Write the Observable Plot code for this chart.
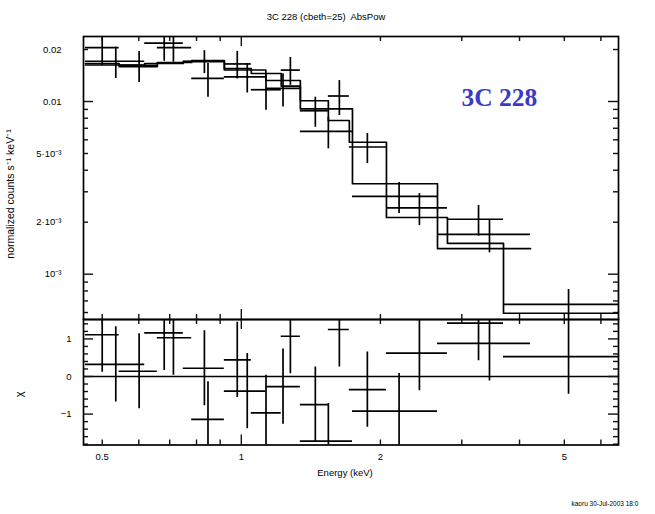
<!DOCTYPE html>
<html><head><meta charset="utf-8">
<script src="https://cdn.jsdelivr.net/npm/d3@7"></script>
<script src="https://cdn.jsdelivr.net/npm/@observablehq/plot@0.6"></script>
<style>
body{margin:0;background:#fff;}
#wrap{position:relative;width:655px;height:514px;}
#wrap svg{position:absolute;left:0;overflow:visible;}
</style></head><body><div id="wrap"></div>
<script>
// ---- Dataset 1 (13 bins) ----
const d1Lo    = [0.46, 0.544, 0.658, 0.781, 0.919, 1.051, 1.22, 1.342, 1.543, 1.713, 2.061, 2.793, 3.693];
const d1Hi    = [0.544, 0.658, 0.781, 0.919, 1.051, 1.22, 1.342, 1.543, 1.713, 2.061, 2.793, 3.693, 6.6];
const d1E     = [0.5, 0.601, 0.713, 0.847, 0.980, 1.131, 1.277, 1.446, 1.630, 1.874, 2.429, 3.261, 5.107];
const d1Rate  = [0.0205, 0.0162, 0.0205, 0.0136, 0.0165, 0.0117, 0.0152, 0.00884, 0.01076, 0.00545, 0.00242, 0.00208, 0.000668];
const d1Err   = [0.0043, 0.0033, 0.0036, 0.0030, 0.0030, 0.0028, 0.0028, 0.00175, 0.00246, 0.00108, 0.00051, 0.00042, 0.000147];
const d1Model = [0.0166, 0.01594, 0.01682, 0.01727, 0.01553, 0.01453, 0.01229, 0.0101, 0.00776, 0.00581, 0.00213, 0.00151, 0.000594];
const d1Chi   = [1.11, 0.14, 1.03, -1.14, 0.44, -0.97, 1.07, -0.75, 1.25, -0.35, 0.62, 1.42, 0.53];
// ---- Dataset 2 (8 bins) ----
const d2Lo    = [0.46, 0.618, 0.749, 0.919, 1.13, 1.342, 1.74, 2.658];
const d2Hi    = [0.618, 0.749, 0.919, 1.13, 1.342, 1.74, 2.658, 4.225];
const d2E     = [0.535, 0.681, 0.832, 1.030, 1.231, 1.543, 2.195, 3.444];
const d2Rate  = [0.0171, 0.0218, 0.0171, 0.0139, 0.0119, 0.00671, 0.00282, 0.0017];
const d2Err   = [0.0035, 0.0047, 0.0026, 0.0027, 0.0026, 0.00139, 0.000575, 0.00037];
const d2Model = [0.01627, 0.0166, 0.01704, 0.01522, 0.01323, 0.00907, 0.00334, 0.001405];
const d2Chi   = [0.32, 1.16, 0.22, -0.39, -0.27, -1.72, -0.92, 0.88];

// ---- axes / ticks / texts ----
const xTickVals   = [0.5, 1, 2, 5];
const xTickLabels = ["0.5", "1", "2", "5"];
const xMinor      = [0.5, 0.6, 0.7, 0.8, 0.9, 2, 3, 4, 5, 6];
const xMajor      = [1];
const yTickVals   = [0.02, 0.01, 0.005, 0.002, 0.001];
const yTickLabels = ["0.02", "0.01", "5·10⁻³", "2·10⁻³", "10⁻³"];
const yMinor      = [6e-4, 7e-4, 8e-4, 9e-4, 2e-3, 3e-3, 4e-3, 5e-3, 6e-3, 7e-3, 8e-3, 9e-3, 0.02];
const yMajor      = [1e-3, 0.01];
const cTickVals   = [1, 0, -1];
const cMinor      = [-1.8, -1.6, -1.4, -1.2, -0.8, -0.6, -0.4, -0.2, 0.2, 0.4, 0.6, 0.8, 1.2, 1.4];
const cMajor      = [-1, 0, 1];
const titleText   = "3C 228 (cbeth=25)  AbsPow";
const yLabelText  = "normalized counts s⁻¹ keV⁻¹";
const cLabelText  = "χ";
const xLabelText  = "Energy (keV)";
const annotText   = "3C 228";
const footerText  = "kaoru 30-Jul-2003 18:0";

const toRows = (lo, hi, e, rate, err, model, chi) =>
  lo.map((l, i) => ({lo: l, hi: hi[i], e: e[i], rate: rate[i], err: err[i], model: model[i], chi: chi[i]}));
const ds1 = toRows(d1Lo, d1Hi, d1E, d1Rate, d1Err, d1Model, d1Chi);
const ds2 = toRows(d2Lo, d2Hi, d2E, d2Rate, d2Err, d2Model, d2Chi);
const steps = (ds) => ds.map(d => ({x: d.lo, y: d.model})).concat([{x: ds[ds.length - 1].hi, y: ds[ds.length - 1].model}]);

const W = 655, ML = 83, MR = 37;
const innerW = W - ML - MR;
const xDomain = [0.4555, 6.55];
const SW = 1.7;
const font = "'Liberation Sans', Arial, sans-serif";

// ---------- top panel ----------
const H1 = 319, MT1 = 36;
const fh1 = H1 - MT1;
const dataMarks = (ds) => [
  Plot.ruleY(ds, {x1: "lo", x2: "hi", y: "rate", stroke: "#000", strokeWidth: SW, clip: true}),
  Plot.ruleX(ds, {x: "e", y1: d => d.rate - d.err, y2: d => d.rate + d.err, stroke: "#000", strokeWidth: SW, clip: true}),
  Plot.line(steps(ds), {x: "x", y: "y", curve: "step-after", stroke: "#000", strokeWidth: SW, clip: true})
];
const topPlot = Plot.plot({
  width: W, height: H1, marginTop: MT1, marginBottom: 0, marginLeft: ML, marginRight: MR,
  style: {fontFamily: font, fontSize: "9px", color: "#111", background: "transparent", overflow: "visible"},
  x: {type: "log", domain: xDomain, axis: null},
  y: {type: "log", domain: [5.466e-4, 0.02379]},
  marks: [
    ...dataMarks(ds1), ...dataMarks(ds2),
    Plot.tickX(xMinor, {x: d => d, insetTop: fh1 - 5, strokeWidth: 1.4}),
    Plot.tickX(xMinor, {x: d => d, insetBottom: fh1 - 5, strokeWidth: 1.4}),
    Plot.tickX(xMajor, {x: d => d, insetTop: fh1 - 10, strokeWidth: 1.4}),
    Plot.tickX(xMajor, {x: d => d, insetBottom: fh1 - 10, strokeWidth: 1.4}),
    Plot.tickY(yMinor, {y: d => d, insetRight: innerW - 5, strokeWidth: 1.4}),
    Plot.tickY(yMinor, {y: d => d, insetLeft: innerW - 5, strokeWidth: 1.4}),
    Plot.tickY(yMajor, {y: d => d, insetRight: innerW - 10, strokeWidth: 1.4}),
    Plot.tickY(yMajor, {y: d => d, insetLeft: innerW - 10, strokeWidth: 1.4}),
    Plot.axisY(yTickVals, {tickSize: 0, tickPadding: 22, label: null, fontSize: 9.5, fill: "#000",
      tickFormat: d => yTickLabels[yTickVals.indexOf(d)]}),
    Plot.text([yLabelText], {frameAnchor: "left", textAnchor: "middle", dx: -73, dy: 16, rotate: -90, fontSize: 10.5, fill: "#000"}),
    Plot.text([titleText], {frameAnchor: "top", textAnchor: "middle", dx: -25, dy: -23, fontSize: 9.5, fill: "#000"}),
    Plot.text([annotText], {frameAnchor: "top-left", dx: 378, dy: 61, textAnchor: "start", lineAnchor: "middle",
      fontSize: 25.5, fontWeight: "bold", fontFamily: "'Liberation Serif', 'Times New Roman', serif", fill: "#3a3ac8"}),
    Plot.frame({stroke: "#000", strokeWidth: SW})
  ]
});
topPlot.style.top = "0px";

// ---------- bottom panel ----------
const H2 = 195, MB2 = 69.5;
const fh2 = H2 - MB2;
const chiMarks = (ds) => [
  Plot.ruleY(ds, {x1: "lo", x2: "hi", y: "chi", stroke: "#000", strokeWidth: SW, clip: true}),
  Plot.ruleX(ds, {x: "e", y1: d => d.chi - 1, y2: d => d.chi + 1, stroke: "#000", strokeWidth: SW, clip: true})
];
const bottomPlot = Plot.plot({
  width: W, height: H2, marginTop: 0, marginBottom: MB2, marginLeft: ML, marginRight: MR,
  style: {fontFamily: font, fontSize: "9px", color: "#111", background: "transparent", overflow: "visible"},
  x: {type: "log", domain: xDomain},
  y: {domain: [-1.822, 1.516]},
  marks: [
    Plot.ruleY([0], {stroke: "#000", strokeWidth: SW}),
    ...chiMarks(ds1), ...chiMarks(ds2),
    Plot.tickX(xMinor, {x: d => d, insetTop: fh2 - 5, strokeWidth: 1.4}),
    Plot.tickX(xMinor, {x: d => d, insetBottom: fh2 - 5, strokeWidth: 1.4}),
    Plot.tickX(xMajor, {x: d => d, insetTop: fh2 - 10, strokeWidth: 1.4}),
    Plot.tickX(xMajor, {x: d => d, insetBottom: fh2 - 10, strokeWidth: 1.4}),
    Plot.tickY(cMinor, {y: d => d, insetRight: innerW - 5, strokeWidth: 1.4}),
    Plot.tickY(cMinor, {y: d => d, insetLeft: innerW - 5, strokeWidth: 1.4}),
    Plot.tickY(cMajor, {y: d => d, insetRight: innerW - 10, strokeWidth: 1.4}),
    Plot.tickY(cMajor, {y: d => d, insetLeft: innerW - 10, strokeWidth: 1.4}),
    Plot.axisY(cTickVals, {tickSize: 0, tickPadding: 12, label: null, fontSize: 9.5, fill: "#000"}),
    Plot.axisX(xTickVals, {tickSize: 0, tickPadding: 8, label: null, fontSize: 9.5, fill: "#000",
      tickFormat: d => xTickLabels[xTickVals.indexOf(d)]}),
    Plot.text([xLabelText], {frameAnchor: "bottom", textAnchor: "middle", dx: -6, dy: 31, fontSize: 9.5, fill: "#000"}),
    Plot.text([cLabelText], {frameAnchor: "left", textAnchor: "middle", dx: -64, dy: 12, rotate: -90, fontSize: 11, fill: "#000"}),
    Plot.text([footerText], {frameAnchor: "bottom-left", dx: 488, dy: 61, textAnchor: "start", fontSize: 6.5, fill: "#000"}),
    Plot.frame({stroke: "#000", strokeWidth: SW})
  ]
});
bottomPlot.style.top = H1 + "px";

const wrap = document.getElementById("wrap");
wrap.appendChild(topPlot);
wrap.appendChild(bottomPlot);
</script>
</body></html>
